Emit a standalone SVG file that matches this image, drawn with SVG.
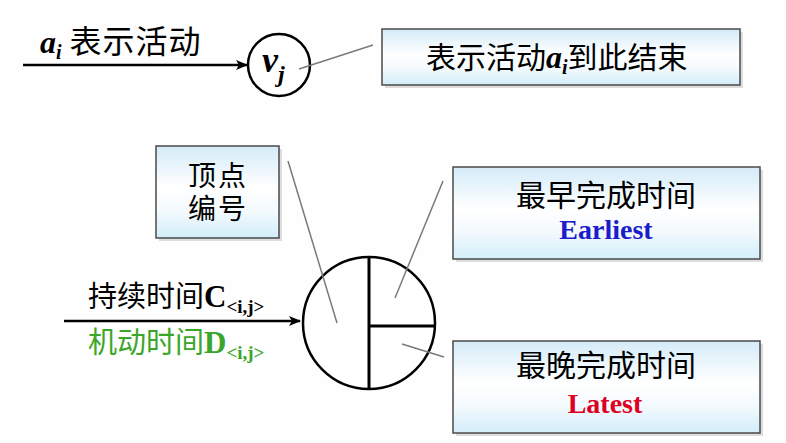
<svg xmlns="http://www.w3.org/2000/svg" width="786" height="443" viewBox="0 0 786 443">
<defs>
<linearGradient id="boxfill" x1="0" y1="0" x2="0" y2="1">
<stop offset="0" stop-color="#d4ebf8"/>
<stop offset="0.45" stop-color="#ffffff"/>
<stop offset="0.7" stop-color="#f4fafd"/>
<stop offset="1" stop-color="#d2edfa"/>
</linearGradient>
<marker id="arrow" viewBox="0 0 12 10" refX="11" refY="5" markerWidth="12" markerHeight="10" markerUnits="userSpaceOnUse" orient="auto">
<path d="M0,0 L12,5 L0,10 L3,5 Z" fill="#000"/>
</marker>
</defs>
<style>
.t{font-family:"Liberation Serif","Noto Sans CJK SC",serif;}
.box{fill:url(#boxfill);stroke:#4a4a4a;stroke-width:1.5;}
.shadow{fill:#bbbbbb;opacity:0.5;}
.lead{stroke:#7a7a7a;stroke-width:1.5;fill:none;}
.arr{stroke:#000;stroke-width:2.5;fill:none;}
.circ{fill:#fff;stroke:#000;stroke-width:2.5;}
</style>
<rect width="786" height="443" fill="#fefefe"/>

<g id="label-ai">
<text class="t" x="40" y="53" font-size="32"><tspan font-weight="bold" font-style="italic">a</tspan><tspan font-weight="bold" font-style="italic" font-size="20" dy="6">i</tspan><tspan dy="-6" dx="8" font-size="32" letter-spacing="1">表示活动</tspan></text>
</g>

<g id="node-vj">
<circle class="circ" cx="279" cy="65" r="31"/>
<text class="t" x="262" y="72" font-size="36" font-weight="bold" font-style="italic">v<tspan font-size="24" dy="10">j</tspan></text>
</g>

<g id="box-end">
<rect class="shadow" x="385" y="32" width="358" height="56"/>
<rect class="box" x="382" y="29" width="358" height="56"/>
<text class="t" x="426" y="68" font-size="30">表示活动<tspan font-weight="bold" font-style="italic" font-size="32">a</tspan><tspan font-weight="bold" font-style="italic" font-size="20" dy="6">i</tspan><tspan dy="-6">到此结束</tspan></text>
</g>

<g id="box-vertex">
<rect class="shadow" x="159" y="149" width="123" height="92"/>
<rect class="box" x="156" y="146" width="123" height="92"/>
<text class="t" x="218" y="186" font-size="28" text-anchor="middle" letter-spacing="2">顶点</text>
<text class="t" x="218" y="219" font-size="28" text-anchor="middle" letter-spacing="2">编号</text>
</g>

<g id="node-main">
<circle class="circ" cx="369" cy="323" r="66"/>
<line stroke="#000" stroke-width="3" x1="369" y1="257" x2="369" y2="389"/>
<line stroke="#000" stroke-width="3" x1="369" y1="326" x2="435" y2="326"/>
</g>

<g id="label-duration">
<text class="t" x="88" y="307" font-size="29">持续时间<tspan font-weight="bold" font-size="31">C</tspan><tspan font-weight="bold" font-size="19" dy="6">&lt;i,j&gt;</tspan></text>
<text class="t" x="88" y="353" font-size="29" fill="#3aa62a">机动时间<tspan font-weight="bold" font-size="31">D</tspan><tspan font-weight="bold" font-size="19" dy="6">&lt;i,j&gt;</tspan></text>
</g>

<g id="box-earliest">
<rect class="shadow" x="456" y="170" width="307" height="92"/>
<rect class="box" x="453" y="167" width="307" height="92"/>
<text class="t" x="606" y="206" font-size="30" text-anchor="middle">最早完成时间</text>
<text class="t" x="606" y="239" font-size="28" font-weight="bold" fill="#1c1ccc" text-anchor="middle">Earliest</text>
</g>

<g id="box-latest">
<rect class="shadow" x="456" y="344" width="307" height="92"/>
<rect class="box" x="453" y="341" width="307" height="92"/>
<text class="t" x="606" y="376" font-size="30" text-anchor="middle">最晚完成时间</text>
<text class="t" x="605" y="413" font-size="28" font-weight="bold" fill="#dd0022" text-anchor="middle">Latest</text>
</g>

<g id="connectors">
<line class="arr" x1="23" y1="65" x2="247" y2="65" marker-end="url(#arrow)"/>
<line class="arr" x1="64" y1="321" x2="300" y2="321" marker-end="url(#arrow)"/>
<line class="lead" x1="299" y1="69" x2="373" y2="45"/>
<line class="lead" x1="288" y1="161" x2="337" y2="323"/>
<line class="lead" x1="443" y1="181" x2="395" y2="298"/>
<line class="lead" x1="402" y1="344" x2="444" y2="357"/>
</g>
</svg>
